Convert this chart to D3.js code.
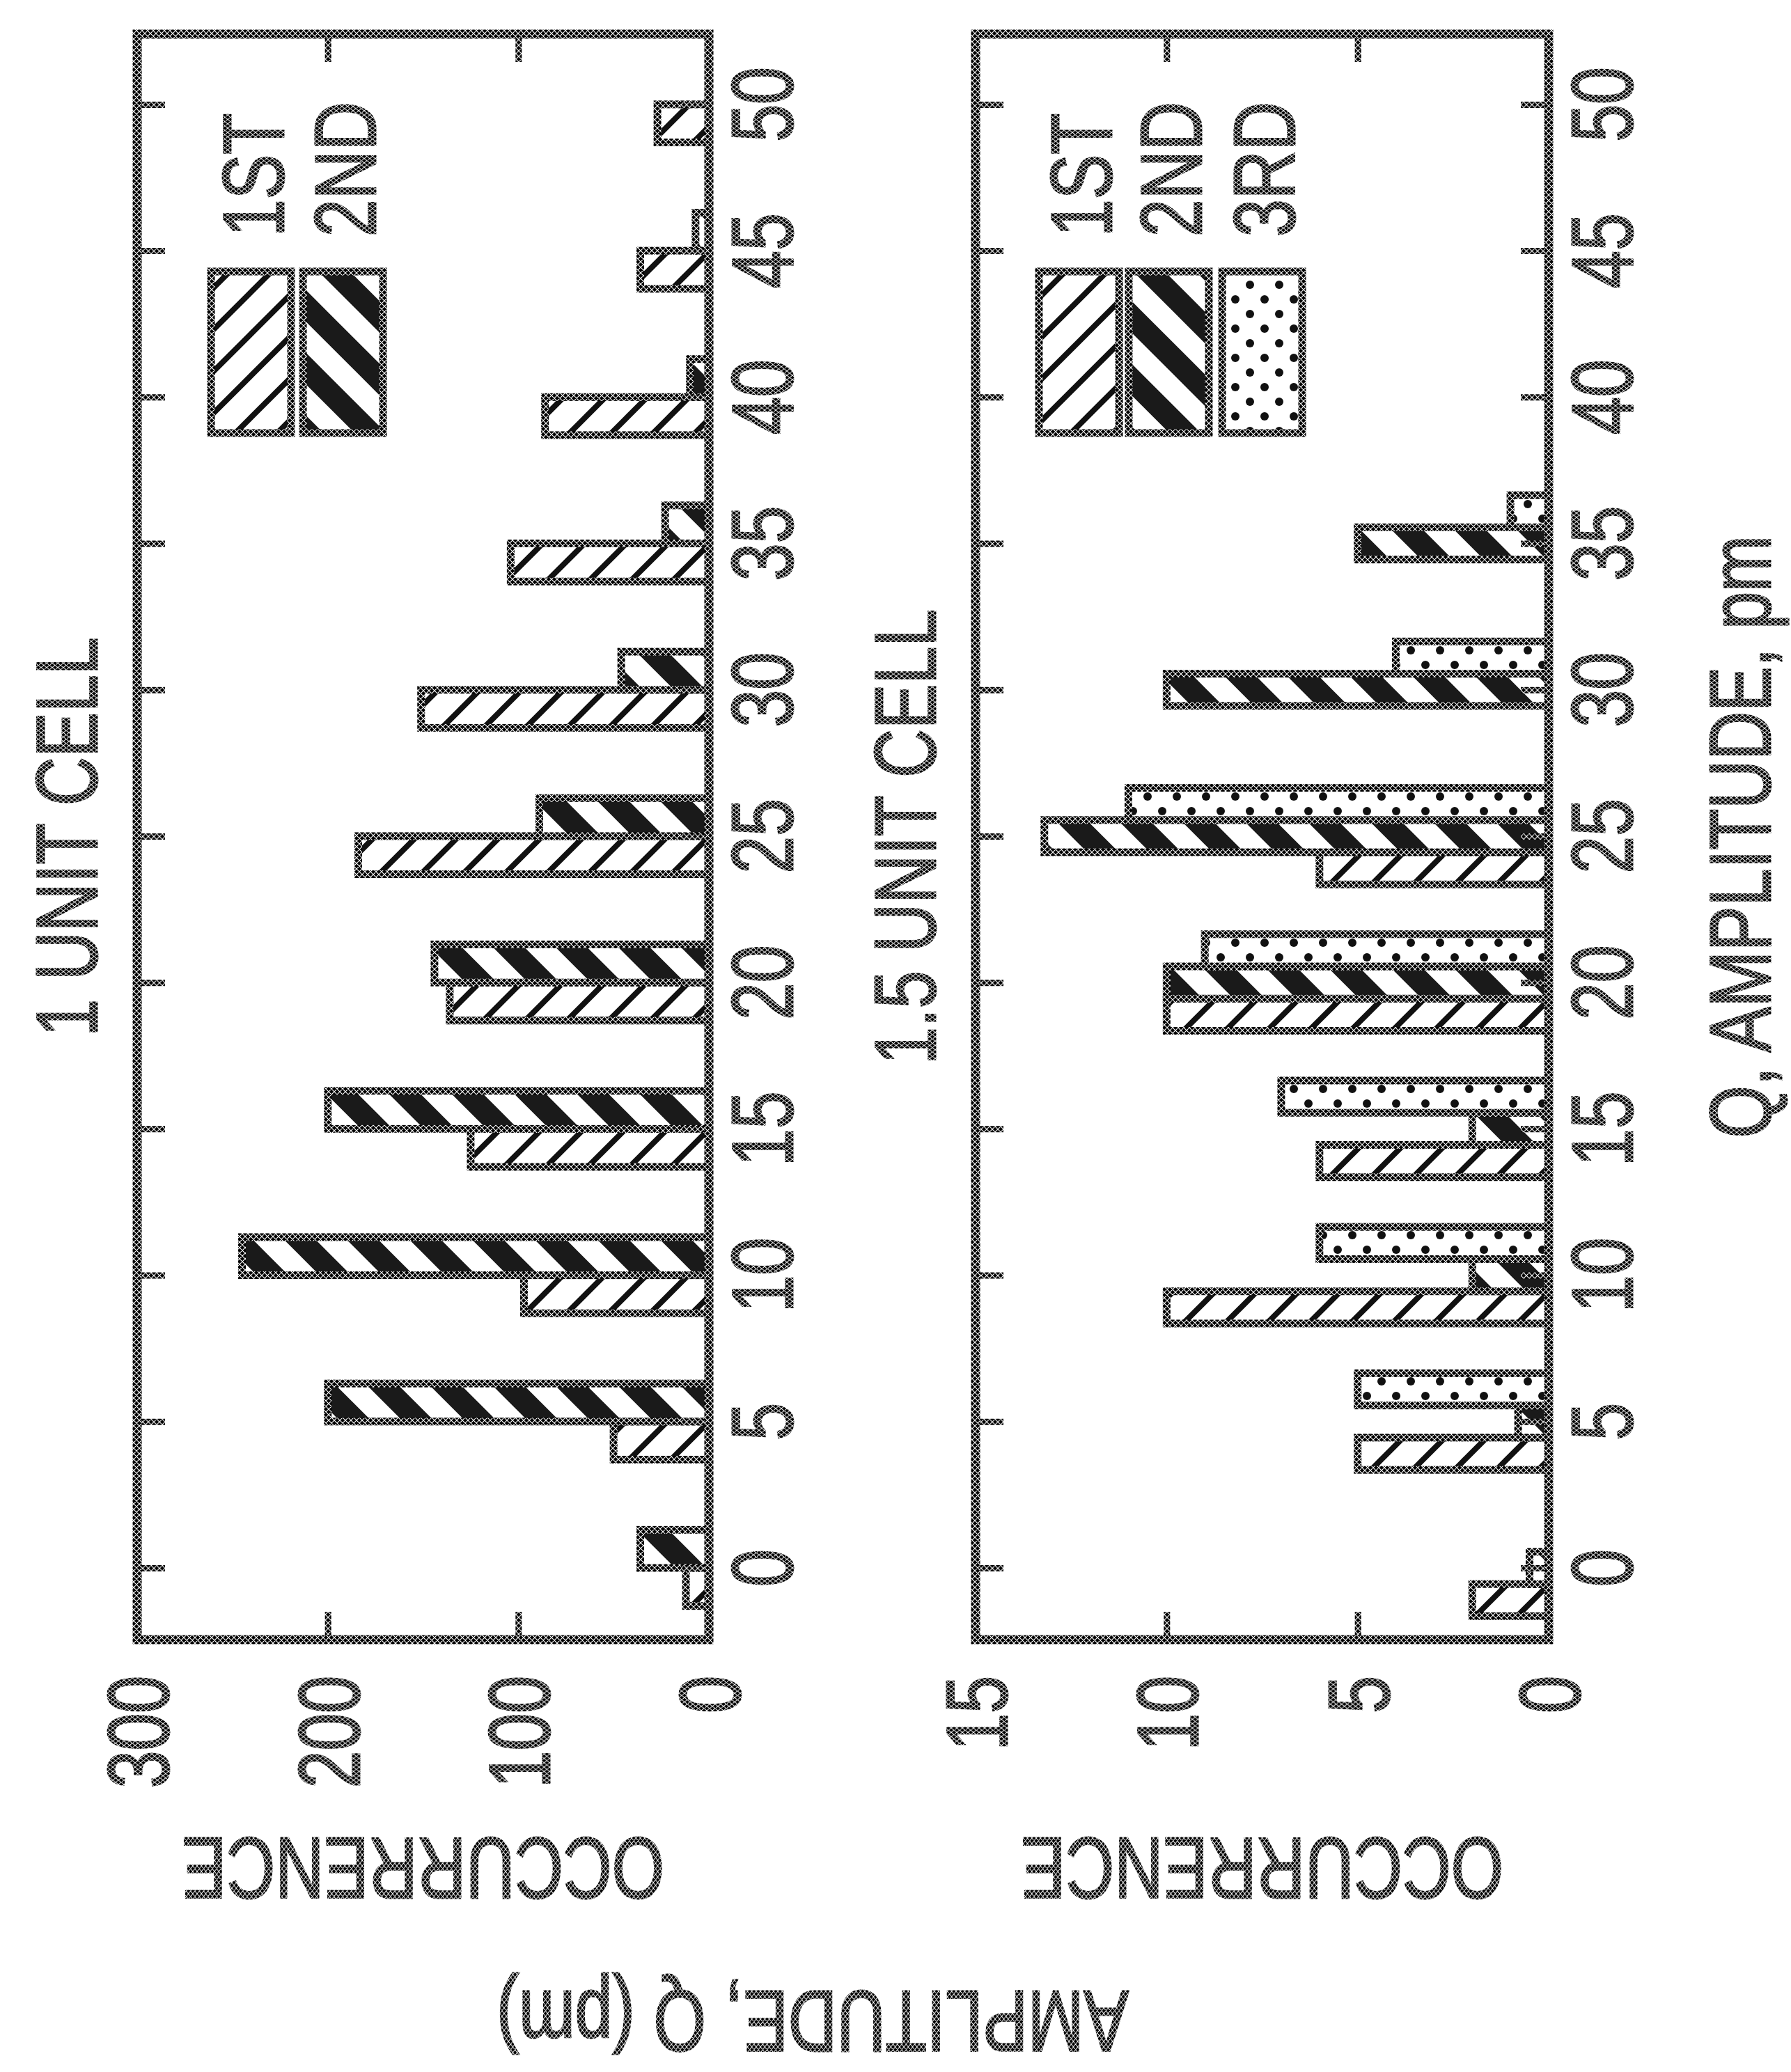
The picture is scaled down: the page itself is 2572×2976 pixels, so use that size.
<!DOCTYPE html>
<html>
<head>
<meta charset="utf-8">
<script src="https://cdn.jsdelivr.net/npm/d3@7"></script>
<style>
  html, body { margin: 0; padding: 0; background: #fff; }
  svg { display: block; }
</style>
</head>
<body>
<script>
// ---------------- DATA ----------------
const qGroups1 = [0, 5, 10, 15, 20, 25, 30, 35, 40, 45, 50];
const unit1First  = [12, 50, 97, 125, 136, 184, 151, 104, 86, 36, 27];
const unit1Second = [36, 200, 245, 200, 144, 89, 46, 23, 10, 7, 0];

const qGroups2 = [0, 5, 10, 15, 20, 25, 30, 35];
const unit15First  = [2, 5, 10, 6, 10, 6, 0, 0];
const unit15Second = [0.5, 0.8, 2, 2, 10, 13.2, 10, 5];
const unit15Third  = [0, 5, 6, 7, 9, 11, 4, 1];

const seriesNames1 = ["1ST", "2ND"];
const seriesNames2 = ["1ST", "2ND", "3RD"];

const qTicks = [0, 5, 10, 15, 20, 25, 30, 35, 40, 45, 50];
const occTicks1 = [0, 100, 200, 300];
const occTicks2 = [0, 5, 10, 15];

const titles = ["1 UNIT CELL", "1.5 UNIT CELL"];
const yLabel = "OCCURRENCE";
const outerLabel = "AMPLITUDE, Q (pm)";
const xLabel = "Q, AMPLITUDE, pm";

// ---------------- LAYOUT ----------------
const W = 2572, H = 2976;
const svg = d3.select("body").append("svg").attr("width", W).attr("height", H);

const defs = svg.append("defs");
// scanned ink texture
const ink = defs.append("pattern").attr("id", "ink").attr("patternUnits", "userSpaceOnUse")
  .attr("width", 8).attr("height", 8);
ink.append("rect").attr("width", 8).attr("height", 8).attr("fill", "#000");
ink.append("path").attr("d", "M0,0L8,8M8,0L0,8M-1,7L1,9M7,-1L9,1").attr("stroke", "#fff").attr("stroke-width", 1.1);

// 1ST: thin "/" hatch
const p1 = defs.append("pattern").attr("id", "hatch1").attr("patternUnits", "userSpaceOnUse")
  .attr("width", 60).attr("height", 60);
p1.append("rect").attr("width", 60).attr("height", 60).attr("fill", "#fff");
p1.append("path").attr("d", "M0,60L60,0M-30,30L30,-30M30,90L90,30")
  .attr("stroke", "#111").attr("stroke-width", 8);

// 2ND: thick "\" stripes
const p2 = defs.append("pattern").attr("id", "hatch2").attr("patternUnits", "userSpaceOnUse")
  .attr("width", 90).attr("height", 90);
p2.append("rect").attr("width", 90).attr("height", 90).attr("fill", "#fff");
p2.append("path").attr("d", "M0,0L90,90M-45,45L45,135M45,-45L135,45")
  .attr("stroke", "#1a1a1a").attr("stroke-width", 32);

// 3RD: stipple dots
const p3 = defs.append("pattern").attr("id", "dots").attr("patternUnits", "userSpaceOnUse")
  .attr("width", 42).attr("height", 42);
p3.append("rect").attr("width", 42).attr("height", 42).attr("fill", "#fff");
p3.append("circle").attr("cx", 10).attr("cy", 10).attr("r", 6).attr("fill", "#111");
p3.append("circle").attr("cx", 31).attr("cy", 31).attr("r", 6).attr("fill", "#111");

const fills = { "1ST": "url(#hatch1)", "2ND": "url(#hatch2)", "3RD": "url(#dots)" };

const FONT = "'Liberation Sans', Arial, sans-serif";
const FS = 124;
const SQ = 0.78; // condensed lettering

function rotText(g, x, y, txt, angle, anchor) {
  return g.append("text")
    .attr("transform", `translate(${x},${y}) rotate(${angle}) scale(${SQ},1)`)
    .attr("text-anchor", anchor)
    .attr("font-family", FONT).attr("font-size", FS)
    .attr("fill", "url(#ink)")
    .attr("stroke", "url(#ink)").attr("stroke-width", 3)
    .text(txt);
}

// Q scale is vertical (figure rotated 90°)
const yQ = d3.scaleLinear().domain([-2.45, 52.4]).range([2355, 49]);

const panels = [
  { left: 197, right: 1018, max: 300, ticks: occTicks1, groups: qGroups1,
    series: seriesNames1, values: [unit1First, unit1Second], groupWidth: 2.6,
    title: titles[0], titleX: 139, legendX: [303, 435] },
  { left: 1401, right: 2224, max: 15, ticks: occTicks2, groups: qGroups2,
    series: seriesNames2, values: [unit15First, unit15Second, unit15Third], groupWidth: 3.3,
    title: titles[1], titleX: 1343, legendX: [1492, 1621, 1755] }
];

const plotTop = yQ.range()[1], plotBottom = yQ.range()[0];

panels.forEach(p => {
  const g = svg.append("g");
  const x = d3.scaleLinear().domain([0, p.max]).range([p.right, p.left]);
  const band = d3.scaleBand().domain(p.series).range([-p.groupWidth / 2, p.groupWidth / 2]);

  // bars
  p.series.forEach((s, si) => {
    const rows = p.groups.map((q, i) => ({ q, v: p.values[si][i] })).filter(d => d.v > 0);
    g.append("g").selectAll("rect").data(rows).join("rect")
      .attr("x", d => x(d.v))
      .attr("width", d => x(0) - x(d.v))
      .attr("y", d => yQ(d.q + band(s) + band.bandwidth()))
      .attr("height", d => yQ(d.q + band(s)) - yQ(d.q + band(s) + band.bandwidth()))
      .attr("fill", fills[s])
      .attr("stroke", "url(#ink)").attr("stroke-width", 11);
  });

  // ticks (inward on all four sides)
  const tickStyle = sel => {
    sel.select(".domain").remove();
    sel.selectAll("line").attr("stroke", "url(#ink)").attr("stroke-width", 9);
  };
  g.append("g").attr("transform", `translate(${p.left},0)`)
    .call(d3.axisLeft(yQ).tickValues(qTicks).tickSize(-40).tickFormat(""))
    .call(tickStyle);
  g.append("g").attr("transform", `translate(${p.right},0)`)
    .call(d3.axisRight(yQ).tickValues(qTicks).tickSize(-40).tickFormat(""))
    .call(tickStyle);
  g.append("g").attr("transform", `translate(0,${plotBottom})`)
    .call(d3.axisBottom(x).tickValues(p.ticks).tickSize(-40).tickFormat(""))
    .call(tickStyle);
  g.append("g").attr("transform", `translate(0,${plotTop})`)
    .call(d3.axisTop(x).tickValues(p.ticks).tickSize(-40).tickFormat(""))
    .call(tickStyle);

  // frame
  g.append("rect").attr("x", p.left).attr("y", plotTop)
    .attr("width", p.right - p.left).attr("height", plotBottom - plotTop)
    .attr("fill", "none").attr("stroke", "url(#ink)").attr("stroke-width", 13);

  // Q tick labels (right side, rotated)
  qTicks.forEach(q => rotText(g, p.right + 120, yQ(q), String(q), -90, "middle"));

  // occurrence tick labels (below, rotated, end-aligned toward the frame)
  p.ticks.forEach(t => rotText(g, x(t) + 45, 2407, String(t), -90, "end"));

  // title
  rotText(g, p.titleX, (plotTop + plotBottom) / 2, p.title, -90, "middle");

  // occurrence label (upside-down)
  rotText(g, (p.left + p.right) / 2, 2640, yLabel, 180, "middle");

  // legend
  p.series.forEach((s, si) => {
    const lx = p.legendX[si];
    g.append("rect").attr("x", lx).attr("y", 390).attr("width", 115).attr("height", 232)
      .attr("fill", fills[s]).attr("stroke", "url(#ink)").attr("stroke-width", 11);
    rotText(g, lx + 104, 340, s, -90, "start");
  });
});

// outer labels
rotText(svg, 1167, 2860, outerLabel, 180, "middle");
rotText(svg, 2542, (plotTop + plotBottom) / 2, xLabel, -90, "middle");
</script>
</body>
</html>
